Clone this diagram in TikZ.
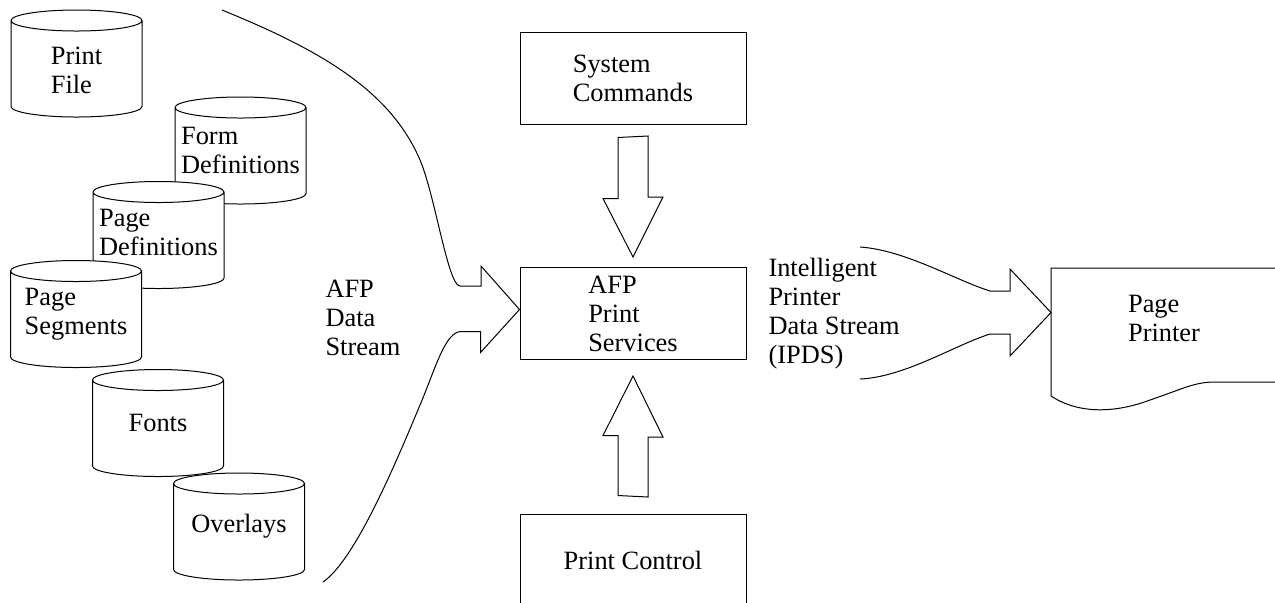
\documentclass[tikz,border=0pt]{standalone}
\usepackage{fontspec}
\setmainfont{Liberation Serif}
\usetikzlibrary{calc}

\tikzset{
  block/.style={draw, align=left, minimum width=113pt, minimum height=46pt, inner sep=0pt},
  dbtext/.style={align=left, inner sep=0pt},
  streamtext/.style={align=left, inner sep=0pt, anchor=west}
}

% Datenbestand als Zylinder: [Textversatz], Name, Mitte, Text
\newcommand{\dbcyl}[4][0]{%
  \coordinate (#2) at (#3);
  \draw [fill=white] ($(#2)+(-65.5,43)$) arc [start angle=180, end angle=540, x radius=65.5, y radius=10.5]
    -- ($(#2)+(-65.5,-43)$) arc [start angle=180, end angle=360, x radius=65.5, y radius=10.5]
    -- ($(#2)+(65.5,43)$);
  \node [dbtext] (#2-text) at ($(#2)+(0,#1)$) {#4};
}

\begin{document}
\begin{tikzpicture}[x=0.5pt, y=0.5pt, line width=0.5pt, font=\fontsize{13.2}{14.5}\selectfont]
  \useasboundingbox (0,0) rectangle (1275,-602);
  \clip (0,0) rectangle (1275,-602);
  % Datenbestaende
  \dbcyl[-7]{printfile}{76.5,-63.5}{Print\\File}
  \dbcyl{formdef}{240.5,-150.5}{Form\\Definitions}
  \dbcyl[3]{pagedef}{158.5,-235}{Page\\Definitions}
  \dbcyl{pageseg}{76,-314}{Page\\Segments}
  \dbcyl{fonts}{158,-423}{Fonts}
  \dbcyl{overlays}{239,-526.5}{Overlays}
  % Kaesten in der Mitte
  \node [block] (syscmd) at (633,-78) {System\\Commands};
  \node [block] (afp) at (633,-313.5) {AFP\\Print\\Services};
  \node [block] (printctl) at (633,-560) {Print Control};
  % Blockpfeile zur Mitte
  \draw ($(syscmd.south)+(-15,-13)$) -- ++(0,-61) -- ++(-15,0) -- ($(afp.north)+(0,10)$)
    -- ++(30,60) -- ++(-15,0) -- ++(0,61) -- cycle;
  \draw ($(printctl.north)+(-15,18)$) -- ++(0,60) -- ++(-15,0) -- ($(afp.south)+(0,-16)$)
    -- ++(30,-61) -- ++(-15,0) -- ++(0,-60) -- cycle;
  % AFP-Datenstrom
  \coordinate (dstop) at (222,-10);
  \coordinate (dsbot) at (323,-582);
  \coordinate (afpin) at ($(afp.west)+(0,4)$);
  \draw (dstop) .. controls (320,-50) and (390,-90) .. (420,-160)
    .. controls (435,-195) and (448,-286) .. (460,-286)
    -- ++(21,0) -- ++(0,20) -- (afpin) -- ++(-39,-43) -- ++(0,21) -- ++(-19,0)
    .. controls (445,-331) and (435,-370) .. (420,-405)
    .. controls (395,-465) and (355,-560) .. (dsbot);
  \node [streamtext] (afpds) at (325,-318) {AFP\\Data\\Stream};
  % IPDS zum Drucker
  \coordinate (ipdstop) at (860,-247);
  \coordinate (ipdsbot) at (860,-379);
  \coordinate (ppin) at (1051,-312.5);
  \draw (ipdstop) .. controls (905,-250) and (955,-280) .. (990,-291)
    -- ++(20,0) -- ++(0,22) -- (ppin) -- ++(-41,-43.5) -- ++(0,22) -- ++(-20,0)
    .. controls (955,-345) and (905,-377) .. (ipdsbot);
  \node [streamtext] (ipds) at (768,-314) {Intelligent\\Printer\\Data Stream\\(IPDS)};
  % Seitendrucker
  \draw (1280,-268) -| (1051,-396) .. controls (1075,-412) and (1110,-415) .. (1150,-400)
    .. controls (1185,-388) and (1195,-382) .. (1215,-382) -- (1280,-382);
  \node [dbtext] (printer) at (1164,-318) {Page\\Printer};
\end{tikzpicture}
\end{document}
